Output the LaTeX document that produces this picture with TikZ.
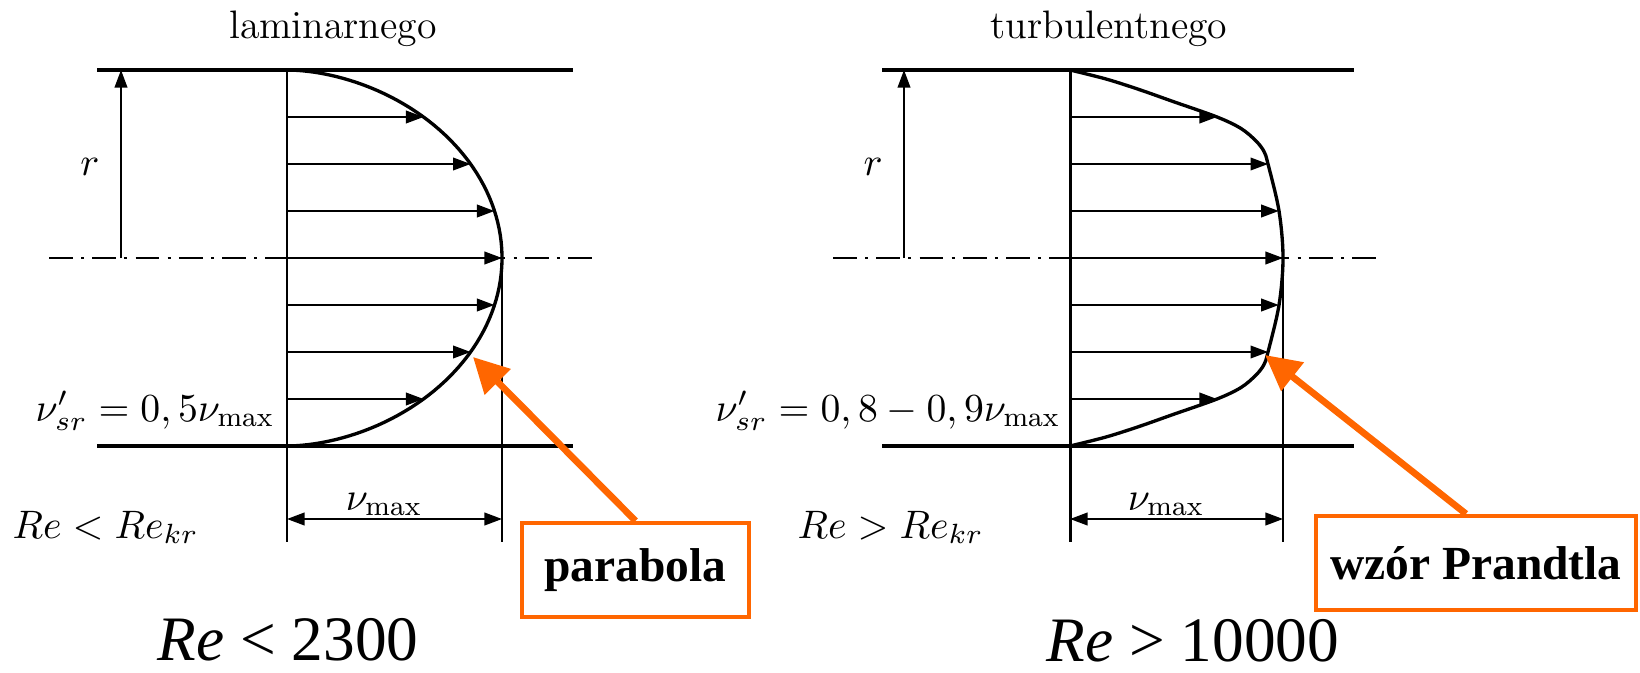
\RequirePackage{fix-cm}
\documentclass[tikz,border=0pt]{standalone}
\usepackage{amsmath}
\usepackage{fontspec}
\newfontfamily\tnr{Liberation Serif}
\usepackage{xcolor}
\usetikzlibrary{arrows.meta, calc}
\definecolor{callout}{RGB}{255,102,0}

\begin{document}
\begin{tikzpicture}[
  x=0.01cm, y=-0.01cm,
  wall/.style={line width=1.1pt},
  prof/.style={line width=0.95pt},
  guide/.style={line width=0.55pt},
  vel/.style={line width=0.5pt, -{Triangle[length=5pt, width=3.6pt]}},
  dim/.style={line width=0.55pt, {Triangle[length=5pt, width=3.6pt]}-{Triangle[length=5pt, width=3.6pt]}},
  centre/.style={line width=0.5pt, dash pattern=on 6.8pt off 2.3pt on 0.9pt off 2.3pt},
  lbl/.style={font=\fontsize{11.3}{13.5}\selectfont, inner sep=0pt},
  big/.style={font=\tnr\fontsize{18}{21}\selectfont, inner sep=0pt, text depth=0pt},
  callbox/.style={draw=callout, line width=1.2pt, minimum height=0.94cm, inner sep=0pt, font=\tnr\bfseries\fontsize{13.5}{16}\selectfont},
  callarrow/.style={callout, line width=1.9pt, -{Triangle[length=10pt, width=10pt]}},
]

\useasboundingbox (0,0) rectangle (1640,673);

% przeplyw laminarny
\draw[wall] (97,70) -- (573,70);
\draw[wall] (97,446) -- (573,446);
\draw[centre] (49,258) -- (597,258);
\draw[line width=0.85pt] (287,70) -- (287,542);
\draw[guide] (502,258) -- (502,542);
\draw[prof] (287,70) -- plot[domain=1:179, samples=90] ({287+215*pow(sin(\x),1.1)}, {258-188*cos(\x)}) -- (287,446);

\foreach \k/\f in {1/0.635, 2/0.854, 3/0.965, 4/1, 5/0.965, 6/0.854, 7/0.635} {
  \coordinate (la\k) at (287, {70+47*\k});
  \coordinate (lb\k) at ({287+215*\f}, {70+47*\k});
  \draw[vel] (la\k) -- (lb\k);
}

\coordinate (lr0) at (121,258);
\coordinate (lr1) at (121,70);
\draw[vel] (lr0) -- (lr1);
\node[lbl] (lamr) at (90,167) {$r$};

\coordinate (ld0) at (287,519);
\coordinate (ld1) at (502,519);
\draw[dim] (ld0) -- (ld1);
\node[lbl, anchor=base] (lamvmax) at (384,510) {$\nu_{\max}$};

\node[lbl, anchor=base] (lamtitle) at (333,39) {laminarnego};
\node[lbl, anchor=base east] (lamvsr) at (275,421) {$\nu'_{sr}=0,5\nu_{\max}$};
\node[lbl, anchor=base west] (lamre) at (12,538) {$Re<Re_{kr}$};
\node[big, anchor=base] (lamrange) at (288,660) {\textit{Re} < 2300};

% przeplyw turbulentny
\draw[wall] (882,70) -- (1354,70);
\draw[wall] (882,446) -- (1354,446);
\draw[centre] (833,258) -- (1377,258);
\draw[line width=0.85pt] (1070,70) -- (1070,542);
\draw[guide] (1283,258) -- (1283,542);
\draw[prof] plot[smooth, tension=0.55] coordinates {(1070,70) (1106,79) (1139,89.5) (1173,101.5) (1217,117) (1241,128.5) (1256,141) (1264,151.5) (1268,164) (1279,211) (1283,258) (1279,305) (1268,352) (1264,364.5) (1256,375) (1241,387.5) (1217,399) (1173,414.5) (1139,426.5) (1106,437) (1070,446)};

\foreach \k/\f in {1/0.69, 2/0.93, 3/0.98, 4/1, 5/0.98, 6/0.93, 7/0.69} {
  \coordinate (ta\k) at (1070, {70+47*\k});
  \coordinate (tb\k) at ({1070+213*\f}, {70+47*\k});
  \draw[vel] (ta\k) -- (tb\k);
}

\coordinate (tr0) at (904,258);
\coordinate (tr1) at (904,70);
\draw[vel] (tr0) -- (tr1);
\node[lbl] (turbr) at (873,167) {$r$};

\coordinate (td0) at (1070,519);
\coordinate (td1) at (1283,519);
\draw[dim] (td0) -- (td1);
\node[lbl, anchor=base] (turbvmax) at (1166,510) {$\nu_{\max}$};

\node[lbl, anchor=base] (turbtitle) at (1109,39) {turbulentnego};
\node[lbl, anchor=base east] (turbvsr) at (1061,421) {$\nu'_{sr}=0,8-0,9\nu_{\max}$};
\node[lbl, anchor=base west] (turbre) at (797,538) {$Re>Re_{kr}$};
\node[big, anchor=base] (turbrange) at (1193,661) {\textit{Re} > 10000};

% objasnienia
\node[callbox, minimum width=2.27cm] (parabola) at (635.5,570) {parabola};
\node[callbox, minimum width=3.2cm] (prandtl) at (1476,563) {wzór Prandtla};

\coordinate (lamtip) at (473,357);
\coordinate (turbtip) at (1265,355);
\draw[callarrow] (parabola.north) -- (lamtip);
\draw[callarrow] ([xshift=-0.1cm]prandtl.north) -- (turbtip);

\end{tikzpicture}
\end{document}
